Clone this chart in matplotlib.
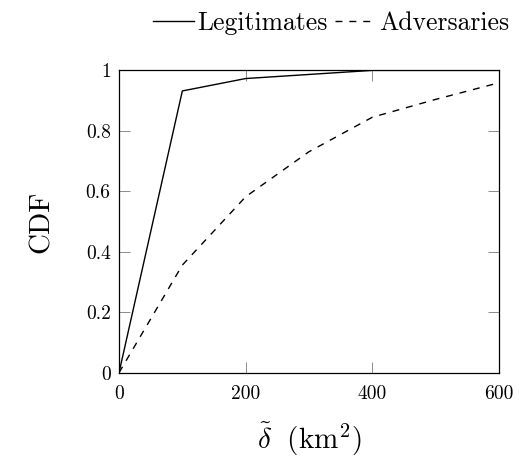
import matplotlib
matplotlib.use('Agg')
import matplotlib.pyplot as plt

plt.rcParams['font.family'] = ['cmr10', 'DejaVu Serif']
plt.rcParams['mathtext.fontset'] = 'cm'
plt.rcParams['axes.formatter.use_mathtext'] = True

# data
x_legit = [0, 100, 200, 400, 600]
y_legit = [0, 0.932, 0.973, 1.0, 1.0]
x_adv = [0, 100, 200, 300, 400, 500, 600]
y_adv = [0, 0.356, 0.582, 0.731, 0.845, 0.904, 0.959]

xticks = [0, 200, 400, 600]
yticks = [0, 0.2, 0.4, 0.6, 0.8, 1.0]
ytick_labels = ['0', '0.2', '0.4', '0.6', '0.8', '1']

fig = plt.figure(figsize=(5.28, 4.63), dpi=100)
ax = fig.add_axes([0.2254, 0.195, 0.7196, 0.653])

ax.plot(x_legit, y_legit, color='black', lw=1.0, label='Legitimates')
ax.plot(x_adv, y_adv, color='black', lw=1.0, dashes=(5, 5), label='Adversaries')

ax.set_xlim(0, 600)
ax.set_ylim(0, 1)
ax.set_xticks(xticks)
ax.set_xticklabels([str(v) for v in xticks])
ax.set_yticks(yticks)
ax.set_yticklabels(ytick_labels)
ax.tick_params(direction='in', top=True, right=True, length=8, width=0.7,
               color='0.55', labelsize=14, labelcolor='black', pad=6)
ax.tick_params(axis='x', pad=9)
for s in ax.spines.values():
    s.set_linewidth(0.9)

ax.set_xlabel(r'$\tilde{\delta}\;$ (km$^2$)', fontsize=21, labelpad=12)
ax.set_ylabel('CDF', fontsize=21, labelpad=22)

fig.legend(loc='center', bbox_to_anchor=(0.627, 0.95), ncol=2, frameon=False,
           fontsize=18.5, handlelength=1.6, handletextpad=0.1, columnspacing=0.3,
           borderpad=0)

fig.savefig('out.png', dpi=100)
